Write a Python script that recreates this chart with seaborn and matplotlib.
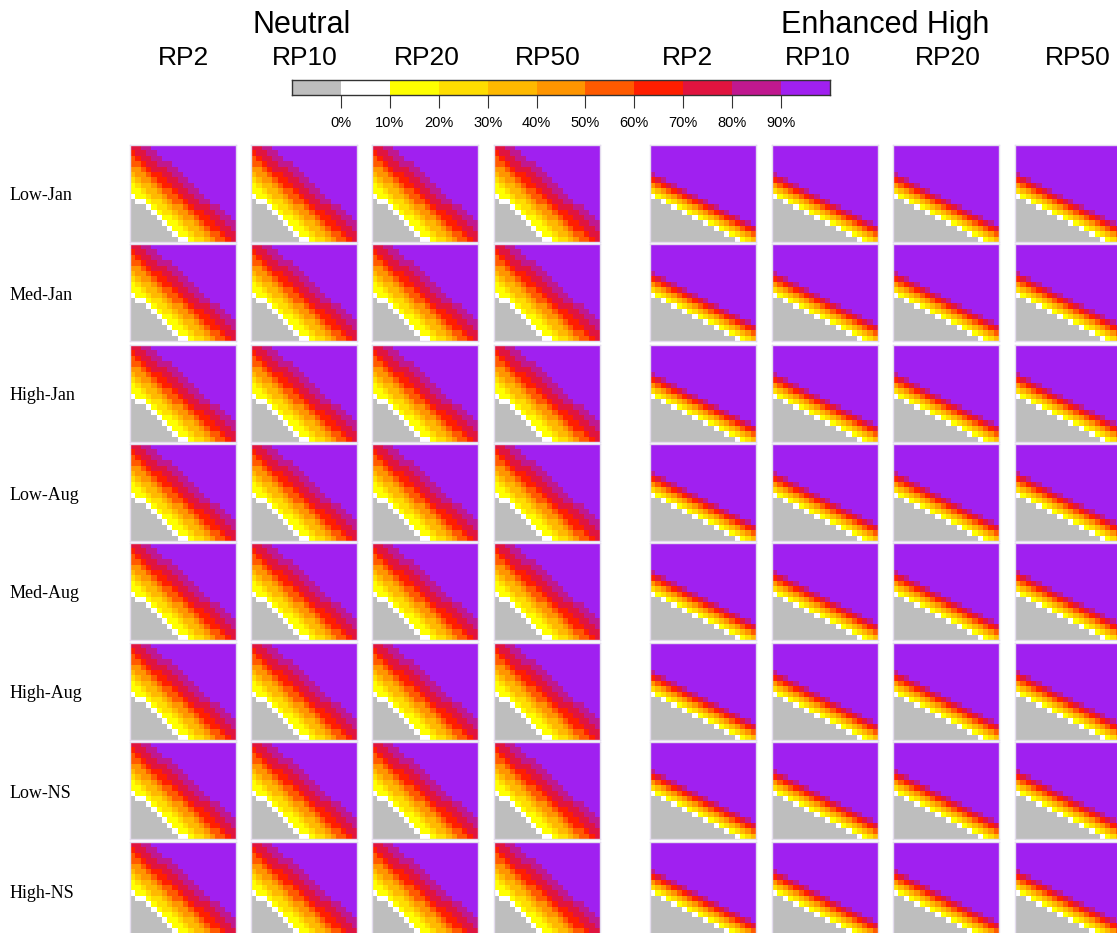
import numpy as np
import matplotlib
matplotlib.use("Agg")
import matplotlib.pyplot as plt
import seaborn as sns
from matplotlib.colors import ListedColormap

# ---------------- data ----------------
group_labels = ["Neutral", "Enhanced High"]
rp_labels = ["RP2", "RP10", "RP20", "RP50"]
row_labels = ["Low-Jan", "Med-Jan", "High-Jan", "Low-Aug",
              "Med-Aug", "High-Aug", "Low-NS", "High-NS"]
class_labels = ["0%", "10%", "20%", "30%", "40%", "50%", "60%", "70%", "80%", "90%"]
class_colors = ["#BEBEBE", "#FFFFFF", "#FFFF00", "#FFDD00", "#FFB900", "#FF9500",
                "#FF5A00", "#FF1E00", "#E0143F", "#C0188F", "#A020F0"]

# class index per cell (hex digit: 0 = below 0 %, 1 = 0-10 %, ..., a = 90 %+)
neutral_grid = [
    "8899aaaaaaaaaaaaaaaa",
    "78899aaaaaaaaaaaaaaa",
    "678899aaaaaaaaaaaaaa",
    "66788999aaaaaaaaaaaa",
    "556788899aaaaaaaaaaa",
    "4556778899aaaaaaaaaa",
    "34556778899aaaaaaaaa",
    "234456778899aaaaaaaa",
    "2234456678899aaaaaaa",
    "12234456678899aaaaaa",
    "011233456678899aaaaa",
    "00012334556788899aaa",
    "000012334556778899aa",
    "0000012234556778899a",
    "00000012234456778899",
    "00000001223445677889",
    "00000000122344566788",
    "00000000011233456678",
]
enhanced_grid = [
    "aaaaaaaaaaaaaaaaaaaa",
    "aaaaaaaaaaaaaaaaaaaa",
    "aaaaaaaaaaaaaaaaaaaa",
    "aaaaaaaaaaaaaaaaaaaa",
    "aaaaaaaaaaaaaaaaaaaa",
    "9aaaaaaaaaaaaaaaaaaa",
    "789aaaaaaaaaaaaaaaaa",
    "56789aaaaaaaaaaaaaaa",
    "3456789aaaaaaaaaaaaa",
    "123456789aaaaaaaaaaa",
    "00123456789aaaaaaaaa",
    "0000123456789aaaaaaa",
    "000000123456789aaaaa",
    "00000000123456789aaa",
    "0000000000123456789a",
    "00000000000012345678",
    "00000000000000123456",
    "00000000000000001234",
]


def to_matrix(grid, ncol=20):
    rows = [r[:ncol].ljust(ncol, r[-1]) for r in grid]
    return np.array([[int(ch, 16) for ch in r] for r in rows])


neutral = to_matrix(neutral_grid)
enhanced = to_matrix(enhanced_grid)

# ---------------- layout ----------------
W, H = 1117, 933
fig = plt.figure(figsize=(W / 100, H / 100), dpi=100)
cmap = ListedColormap(class_colors)
SANS = "Liberation Sans"
SERIF = "Liberation Serif"


def px_axes(x, y, w, h):
    return fig.add_axes([x / W, 1 - (y + h) / H, w / W, h / H])


col_x = [130, 251, 372, 494, 650, 772, 893, 1015]
row_y = [145, 244, 345, 444, 543, 643, 742, 842]
pw, ph = 106, 97

for i, lab in enumerate(row_labels):
    for j, x in enumerate(col_x):
        mat = neutral if j < 4 else enhanced
        ax = px_axes(x, row_y[i], pw, ph)
        sns.heatmap(mat, ax=ax, cmap=cmap, vmin=-0.5, vmax=10.5, cbar=False,
                    xticklabels=False, yticklabels=False)
        for s in ax.spines.values():
            s.set_visible(True)
            s.set_color("#E4DCEE")
            s.set_linewidth(1.0)
    fig.text(10 / W, 1 - (row_y[i] + 51) / H, lab, family=SERIF,
             size=13, va="center", ha="left")

# column headers
hdr_x = [183, 305, 427, 548, 688, 818, 948, 1078]
for j, x in enumerate(hdr_x):
    fig.text(x / W, 1 - 58 / H, rp_labels[j % 4], family=SANS, size=19,
             ha="center", va="center")
fig.text(302 / W, 1 - 25 / H, group_labels[0], family=SANS, size=22,
         ha="center", va="center")
fig.text(885 / W, 1 - 25 / H, group_labels[1], family=SANS, size=22,
         ha="center", va="center")

# colour key
cax = px_axes(292, 80, 538, 15)
sns.heatmap(np.arange(len(class_colors))[None, :], ax=cax, cmap=cmap,
            vmin=-0.5, vmax=10.5, cbar=False, xticklabels=False, yticklabels=False)
for s in cax.spines.values():
    s.set_visible(True)
    s.set_color("#333333")
    s.set_linewidth(1.0)
cax.set_xticks(np.arange(1, len(class_colors)))
cax.set_xticklabels(class_labels, family=SANS, size=10.5)
cax.tick_params(axis="x", bottom=True, length=9, width=0.8, pad=6, color="#333333")
cax.set_yticks([])

fig.savefig("out.png", dpi=100)
